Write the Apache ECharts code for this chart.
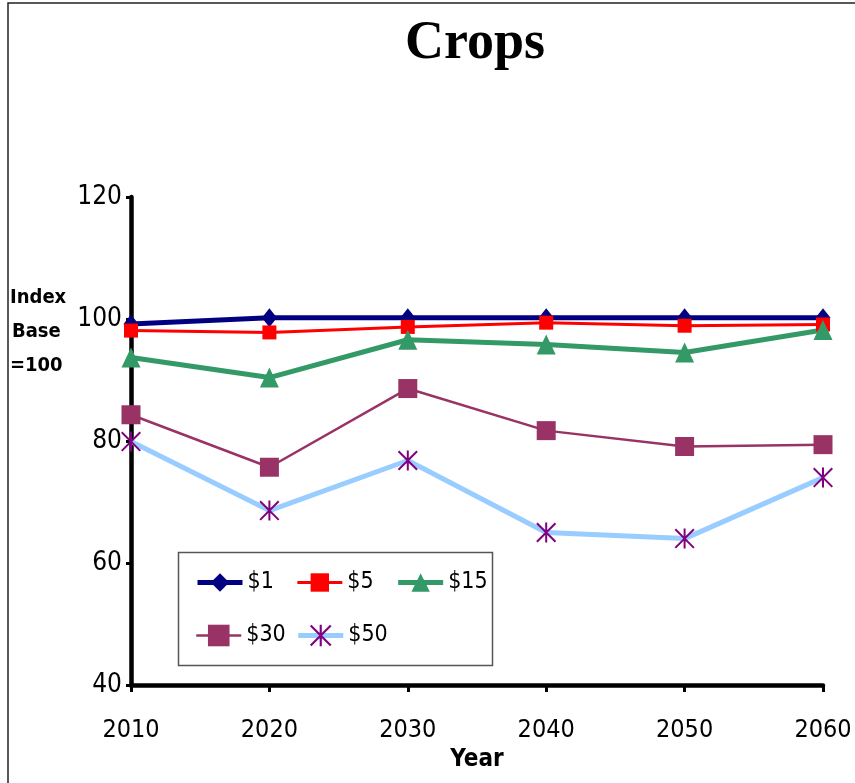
<!DOCTYPE html>
<html>
<head>
<meta charset="utf-8">
<script src="https://cdn.jsdelivr.net/npm/echarts@6/dist/echarts.min.js"></script>
<style>
  html, body { margin: 0; padding: 0; background: #fff; }
  #chart { width: 855px; height: 783px; }
</style>
</head>
<body>
<div id="chart"></div>
<script>
// Crop index by carbon price scenario, base = 100
const years = ['2010', '2020', '2030', '2040', '2050', '2060'];
const yTicks = [40, 60, 80, 100, 120];
const price1  = [99.2, 100.2, 100.2, 100.2, 100.2, 100.2];
const price5  = [98.1, 97.8, 98.7, 99.4, 98.9, 99.1];
const price15 = [93.7, 90.4, 96.6, 95.8, 94.5, 98.2];
const price30 = [84.3, 75.7, 88.6, 81.7, 79.1, 79.4];
const price50 = [79.9, 68.6, 76.8, 65.0, 64.0, 74.0];

const AXIS_FONT = "'Liberation Sans Narrow', 'DejaVu Sans Condensed', 'Liberation Sans', Arial, sans-serif";

// six-armed asterisk built from three bars, all wound the same way
const asterisk = 'path://M9,0L11,0L11,20L9,20Z M0,1.4L1.4,0L20,18.6L18.6,20Z M20,1.4L1.4,20L0,18.6L18.6,0Z';

const styles = {
  '$1':  { color: '#000080', width: 5,   symbol: 'diamond',  size: [15, 19] },
  '$5':  { color: '#FF0000', width: 3,   symbol: 'rect',     size: 14 },
  '$15': { color: '#339966', width: 5,   symbol: 'triangle', size: [19, 20] },
  '$30': { color: '#993366', width: 2.5, symbol: 'rect',     size: 19 },
  '$50': { color: '#99CCFF', width: 5,   symbol: asterisk,   size: 20, symbolColor: '#800080' }
};

function lineSeries(name, data) {
  const s = styles[name];
  return {
    name: name,
    type: 'line',
    data: data,
    symbol: s.symbol,
    symbolSize: s.size,
    showAllSymbol: true,
    lineStyle: { color: s.color, width: s.width },
    itemStyle: { color: s.symbolColor || s.color, borderWidth: 0 },
    emphasis: { disabled: true },
    animation: false
  };
}

function legendItem(name) {
  return { name: name, lineStyle: { width: styles[name].width, color: styles[name].color } };
}

const chart = echarts.init(document.getElementById('chart'), null, { renderer: 'canvas' });

const legendText = { fontFamily: AXIS_FONT, fontSize: 23, color: '#000' };

chart.setOption({
  backgroundColor: '#fff',
  animation: false,
  grid: { left: 131, right: 32, top: 197, bottom: 98, containLabel: false },
  xAxis: {
    type: 'category',
    data: years,
    boundaryGap: false,
    name: 'Year',
    nameLocation: 'middle',
    nameGap: 62,
    nameTextStyle: { fontFamily: AXIS_FONT, fontWeight: 'bold', fontSize: 24, color: '#000' },
    axisLine: { lineStyle: { color: '#000', width: 4.5 } },
    axisTick: { show: true, length: 7, lineStyle: { color: '#000', width: 3 } },
    axisLabel: { fontFamily: AXIS_FONT, fontSize: 25, color: '#000', margin: 33 },
    splitLine: { show: false }
  },
  yAxis: {
    type: 'value',
    min: yTicks[0],
    max: yTicks[yTicks.length - 1],
    interval: 20,
    axisLine: { show: true, lineStyle: { color: '#000', width: 4.5 } },
    axisTick: { show: true, length: 5, lineStyle: { color: '#000', width: 3 } },
    axisLabel: { fontFamily: AXIS_FONT, fontSize: 26, color: '#000', margin: 9, padding: [6, 0, 0, 0] },
    splitLine: { show: false }
  },
  legend: [
    {
      data: ['$1', '$5', '$15'].map(legendItem),
      left: 190, top: 566,
      itemWidth: 45, itemHeight: 23, itemGap: 22,
      textStyle: legendText,
      selectedMode: false
    },
    {
      data: ['$30', '$50'].map(legendItem),
      left: 190, top: 619,
      itemWidth: 45, itemHeight: 27, itemGap: 10,
      textStyle: legendText,
      selectedMode: false
    }
  ],
  graphic: [
    // outer frame
    { type: 'polyline', shape: { points: [[8, 783], [8, 3], [855, 3]] }, style: { stroke: '#222', lineWidth: 1.5, fill: null }, silent: true },
    // chart title
    { type: 'text', x: 475, y: 44, style: { text: 'Crops', fontFamily: "'Liberation Serif', 'Times New Roman', serif", fontWeight: 'bold', fontSize: 54, fill: '#000', align: 'center', verticalAlign: 'middle' }, silent: true },
    // legend box
    { type: 'rect', shape: { x: 178.5, y: 552.5, width: 314, height: 113 }, style: { stroke: '#555', lineWidth: 1.5, fill: '#fff' }, z: 0, silent: true },
    // y axis caption
    { type: 'text', left: 10, top: 288, style: { text: 'Index', fontFamily: AXIS_FONT, fontWeight: 'bold', fontSize: 20, fill: '#000' }, silent: true },
    { type: 'text', left: 12, top: 322, style: { text: 'Base', fontFamily: AXIS_FONT, fontWeight: 'bold', fontSize: 20, fill: '#000' }, silent: true },
    { type: 'text', left: 10, top: 356, style: { text: '=100', fontFamily: AXIS_FONT, fontWeight: 'bold', fontSize: 20, fill: '#000' }, silent: true }
  ],
  series: [
    lineSeries('$1', price1),
    lineSeries('$5', price5),
    lineSeries('$15', price15),
    lineSeries('$30', price30),
    lineSeries('$50', price50)
  ]
});
</script>
</body>
</html>
